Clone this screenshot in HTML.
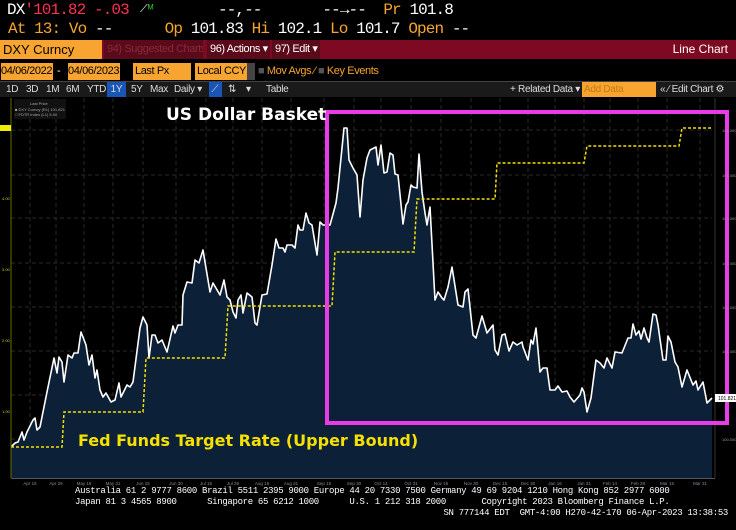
<!DOCTYPE html>
<html><head><meta charset="utf-8"><style>
html,body{margin:0;padding:0;background:#000;width:736px;height:530px;overflow:hidden;font-family:"Liberation Sans",sans-serif}
.a{position:absolute;white-space:nowrap}
.m{font-family:"Liberation Mono",monospace}
.i{font-size:11px;letter-spacing:-0.4px}
</style></head><body>
<div class="a m" style="left:7px;top:0;font-size:16px;line-height:20px;color:#fff;letter-spacing:-0.9px">DX<span style="color:#ff3050">'101.82 -.03</span></div>
<div class="a" style="left:140px;top:3px;color:#fff;font-size:11px">⟋<span style="color:#2c2">ᴹ</span></div>
<div class="a m" style="left:218px;top:0;font-size:16px;line-height:20px;color:#fff;letter-spacing:-0.9px">--,--&nbsp;&nbsp;&nbsp;&nbsp;&nbsp;&nbsp;&nbsp;--→--&nbsp;&nbsp;<span style="color:#f7a530">Pr</span> 101.8</div>
<div class="a m" style="left:8px;top:20px;font-size:16px;line-height:18px;color:#f7a530;letter-spacing:-0.9px">At 13: Vo <span style="color:#fff">--</span>&nbsp;&nbsp;&nbsp;&nbsp;&nbsp;&nbsp;Op <span style="color:#fff">101.83</span> Hi <span style="color:#fff">102.1</span> Lo <span style="color:#fff">101.7</span> Open <span style="color:#fff">--</span></div>
<div class="a" style="left:0;top:40px;width:736px;height:19px;background:#7d0a22"></div>
<div class="a" style="left:0;top:40px;width:102px;height:19px;background:#f7a530;color:#000;font-size:13px;line-height:19px;padding-left:3px;box-sizing:border-box">DXY Curncy</div>
<div class="a i" style="left:104px;top:40px;width:99px;height:19px;background:#5a0a1a;color:#8a2a3a;line-height:19px;padding-left:3px;box-sizing:border-box;overflow:hidden">94) Suggested Charts</div>
<div class="a i" style="left:207px;top:40px;width:63px;height:19px;background:#5a0a1a;color:#fff;line-height:19px;padding-left:3px;box-sizing:border-box">96) Actions ▾</div>
<div class="a i" style="left:272px;top:40px;width:48px;height:19px;background:#5a0a1a;color:#fff;line-height:19px;padding-left:3px;box-sizing:border-box">97) Edit ▾</div>
<div class="a" style="right:8px;top:40px;color:#fff;font-size:12px;line-height:19px">Line Chart</div>
<div class="a" style="left:0;top:61px;width:736px;height:20px;border-bottom:1px solid #444"></div>
<div class="a i" style="left:1px;top:63px;width:52px;height:17px;background:#f7a530;line-height:17px;color:#000;overflow:hidden">04/06/2022</div>
<div class="a" style="left:57px;top:65px;color:#fff;font-size:11px">-</div>
<div class="a i" style="left:68px;top:63px;width:52px;height:17px;background:#f7a530;line-height:17px;color:#000;overflow:hidden">04/06/2023</div>
<div class="a i" style="left:133px;top:63px;width:58px;height:17px;background:#f7a530;line-height:17px;color:#000;padding-left:2px;box-sizing:border-box">Last Px</div>
<div class="a i" style="left:195px;top:63px;width:52px;height:17px;background:#f7a530;line-height:17px;color:#000;padding-left:2px;box-sizing:border-box">Local CCY</div>
<div class="a" style="left:247px;top:63px;width:8px;height:17px;background:#444"></div>
<div class="a i" style="left:258px;top:65px;color:#f7a530"><span style="color:#555">■</span> Mov Avgs ⁄ <span style="color:#555">■</span> Key Events</div>
<div class="a" style="left:0;top:82px;width:736px;height:15px;background:#1a1a1a"></div>
<div class="a" style="left:0;top:82px;font-size:10px;line-height:15px;color:#ddd;letter-spacing:-0.3px">
<span style="position:absolute;left:6px">1D</span><span style="position:absolute;left:26px">3D</span><span style="position:absolute;left:46px">1M</span><span style="position:absolute;left:66px">6M</span><span style="position:absolute;left:87px">YTD</span><span style="position:absolute;left:107px;width:19px;background:#1a56b8;text-align:center">1Y</span><span style="position:absolute;left:131px">5Y</span><span style="position:absolute;left:150px">Max</span><span style="position:absolute;left:174px">Daily ▾</span><span style="position:absolute;left:209px;width:13px;background:#1a56b8">&nbsp;⟋</span><span style="position:absolute;left:228px">⇅</span><span style="position:absolute;left:246px">▾</span><span style="position:absolute;left:266px">Table</span>
<span style="position:absolute;left:510px">+ Related Data ▾</span><span style="position:absolute;left:582px;width:72px;background:#f7a530;color:#c47a10;padding-left:2px">Add Data</span><span style="position:absolute;left:660px">«  ⁄ Edit Chart ⚙</span></div>
<svg class="a" style="left:0;top:97px" width="736" height="400" viewBox="0 97 736 400">
<g stroke="#2a2a2a" stroke-width="1" stroke-dasharray="4,3">
<line x1="11" x2="712" y1="130" y2="130"/><line x1="11" x2="712" y1="175" y2="175"/><line x1="11" x2="712" y1="218" y2="218"/><line x1="11" x2="712" y1="263" y2="263"/><line x1="11" x2="712" y1="307" y2="307"/><line x1="11" x2="712" y1="351" y2="351"/><line x1="11" x2="712" y1="395" y2="395"/><line x1="11" x2="712" y1="439" y2="439"/>
<line y1="98" y2="478" x1="30" x2="30"/><line y1="98" y2="478" x1="56" x2="56"/><line y1="98" y2="478" x1="84" x2="84"/><line y1="98" y2="478" x1="113" x2="113"/><line y1="98" y2="478" x1="143" x2="143"/><line y1="98" y2="478" x1="176" x2="176"/><line y1="98" y2="478" x1="206" x2="206"/><line y1="98" y2="478" x1="233" x2="233"/><line y1="98" y2="478" x1="262" x2="262"/><line y1="98" y2="478" x1="291" x2="291"/><line y1="98" y2="478" x1="324" x2="324"/><line y1="98" y2="478" x1="354" x2="354"/><line y1="98" y2="478" x1="381" x2="381"/><line y1="98" y2="478" x1="411" x2="411"/><line y1="98" y2="478" x1="441" x2="441"/><line y1="98" y2="478" x1="471" x2="471"/><line y1="98" y2="478" x1="500" x2="500"/><line y1="98" y2="478" x1="528" x2="528"/><line y1="98" y2="478" x1="555" x2="555"/><line y1="98" y2="478" x1="584" x2="584"/><line y1="98" y2="478" x1="610" x2="610"/><line y1="98" y2="478" x1="638" x2="638"/><line y1="98" y2="478" x1="667" x2="667"/><line y1="98" y2="478" x1="700" x2="700"/>
</g>
<polygon fill="#0c2038" points="11,478 11,447 15,443 18,442 22,432 24,440 27,432 33,420 35,418 37,430 40,427 47,392 54,358 57,373 59,357 62,362 64,382 68,355 72,358 74,353 78,353 81,332 86,345 89,365 92,355 95,378 97,370 100,390 103,397 106,393 111,402 115,400 119,383 121,397 127,385 130,387 133,382 140,328 143,317 147,325 149,358 152,335 155,335 158,343 162,340 167,352 173,326 175,333 178,325 182,325 183,295 187,282 192,283 195,260 199,263 203,250 210,292 213,283 220,295 224,280 227,297 230,300 233,312 236,318 238,300 241,295 243,313 247,293 252,297 255,323 257,325 262,295 267,294 272,265 276,239 279,248 283,248 285,252 287,245 292,245 295,248 298,225 300,230 303,230 306,213 309,223 312,225 317,255 320,222 323,225 330,225 336,203 338,188 342,148 344,128 347,128 349,160 353,168 357,175 360,217 363,180 367,158 370,150 376,147 378,165 381,145 384,173 387,172 390,153 393,155 395,174 398,175 403,224 406,205 408,202 411,185 413,187 417,188 419,154 422,192 425,213 427,225 430,207 435,300 438,292 442,298 444,300 448,287 452,267 458,305 463,307 465,292 468,289 473,335 476,338 482,316 487,333 493,325 495,350 498,355 502,335 505,334 509,351 513,342 517,345 522,342 523,347 528,360 531,340 533,344 536,328 540,372 543,368 547,368 550,390 555,390 558,386 562,392 567,391 570,397 574,402 580,395 582,388 584,392 587,412 591,398 596,360 600,363 604,368 607,358 612,368 615,352 622,353 628,338 631,338 633,324 636,335 639,331 641,339 644,328 647,338 649,342 653,314 656,315 658,325 663,360 666,360 668,336 671,342 675,362 678,367 682,387 687,370 693,385 696,381 698,390 703,382 707,403 712,398 712,478"/>
<polyline fill="none" stroke="#fff" stroke-width="1.6" stroke-linejoin="round" points="11,447 15,443 18,442 22,432 24,440 27,432 33,420 35,418 37,430 40,427 47,392 54,358 57,373 59,357 62,362 64,382 68,355 72,358 74,353 78,353 81,332 86,345 89,365 92,355 95,378 97,370 100,390 103,397 106,393 111,402 115,400 119,383 121,397 127,385 130,387 133,382 140,328 143,317 147,325 149,358 152,335 155,335 158,343 162,340 167,352 173,326 175,333 178,325 182,325 183,295 187,282 192,283 195,260 199,263 203,250 210,292 213,283 220,295 224,280 227,297 230,300 233,312 236,318 238,300 241,295 243,313 247,293 252,297 255,323 257,325 262,295 267,294 272,265 276,239 279,248 283,248 285,252 287,245 292,245 295,248 298,225 300,230 303,230 306,213 309,223 312,225 317,255 320,222 323,225 330,225 336,203 338,188 342,148 344,128 347,128 349,160 353,168 357,175 360,217 363,180 367,158 370,150 376,147 378,165 381,145 384,173 387,172 390,153 393,155 395,174 398,175 403,224 406,205 408,202 411,185 413,187 417,188 419,154 422,192 425,213 427,225 430,207 435,300 438,292 442,298 444,300 448,287 452,267 458,305 463,307 465,292 468,289 473,335 476,338 482,316 487,333 493,325 495,350 498,355 502,335 505,334 509,351 513,342 517,345 522,342 523,347 528,360 531,340 533,344 536,328 540,372 543,368 547,368 550,390 555,390 558,386 562,392 567,391 570,397 574,402 580,395 582,388 584,392 587,412 591,398 596,360 600,363 604,368 607,358 612,368 615,352 622,353 628,338 631,338 633,324 636,335 639,331 641,339 644,328 647,338 649,342 653,314 656,315 658,325 663,360 666,360 668,336 671,342 675,362 678,367 682,387 687,370 693,385 696,381 698,390 703,382 707,403 712,398"/>
<polyline fill="none" stroke="#f5e000" stroke-width="1.5" stroke-dasharray="3,2" points="11,447 62,447 64,412 143,412 146,358 225,358 228,306 332,306 335,252 414,252 417,199 495,199 497,163 584,163 587,146 679,146 682,128 712,128"/>
<line x1="11" y1="98" x2="11" y2="478" stroke="#6a6a00" stroke-width="1"/>
<line x1="715" y1="98" x2="715" y2="478" stroke="#333" stroke-width="1"/>
<line x1="11" y1="478.5" x2="715" y2="478.5" stroke="#555"/>
<rect x="327" y="112" width="400" height="311" fill="none" stroke="#e83ce8" stroke-width="4"/>
<rect x="14" y="99" width="52" height="20" fill="#111"/>
<g font-size="4" fill="#aaa" font-family="Liberation Sans"><text x="30" y="105">Last Price</text><text x="15" y="111">■ DXY Curncy (R1) 101.821</text><text x="15" y="116">□ FDTR Index (L1) 5.00</text></g>
<rect x="0" y="125" width="11" height="6" fill="#ee0"/>
<g font-size="4" fill="#cc0" font-family="Liberation Sans"><text x="2" y="200">4.00</text><text x="2" y="271">3.00</text><text x="2" y="342">2.00</text><text x="2" y="413">1.00</text></g>
<g font-size="4" fill="#999" font-family="Liberation Sans"><text x="722" y="132">106.000</text><text x="722" y="177">105.000</text><text x="722" y="220">104.000</text><text x="722" y="265">103.000</text><text x="722" y="309">102.000</text><text x="722" y="353">101.000</text><text x="722" y="441">100.000</text></g>
<rect x="715" y="394" width="21" height="8" fill="#fff"/>
<text x="718" y="400" font-size="5" fill="#000" font-family="Liberation Sans">101.821</text>
<g font-size="4.5" fill="#889" font-family="Liberation Sans" text-anchor="middle"><text x="30" y="485">Apr 15</text><text x="56" y="485">Apr 29</text><text x="84" y="485">May 16</text><text x="113" y="485">May 31</text><text x="143" y="485">Jun 15</text><text x="176" y="485">Jun 30</text><text x="206" y="485">Jul 15</text><text x="233" y="485">Jul 29</text><text x="262" y="485">Aug 15</text><text x="291" y="485">Aug 31</text><text x="324" y="485">Sep 15</text><text x="354" y="485">Sep 30</text><text x="381" y="485">Oct 14</text><text x="411" y="485">Oct 31</text><text x="441" y="485">Nov 15</text><text x="471" y="485">Nov 30</text><text x="500" y="485">Dec 15</text><text x="528" y="485">Dec 30</text><text x="555" y="485">Jan 16</text><text x="584" y="485">Jan 31</text><text x="610" y="485">Feb 14</text><text x="638" y="485">Feb 28</text><text x="667" y="485">Mar 15</text><text x="700" y="485">Mar 31</text></g>
<text x="166" y="120" font-size="17" font-weight="bold" fill="#fff" font-family="DejaVu Sans">US Dollar Basket</text>
<text x="78" y="446" font-size="16" font-weight="bold" fill="#f5e000" font-family="DejaVu Sans">Fed Funds Target Rate (Upper Bound)</text>
</svg>
<div class="a m" style="left:75px;top:486px;font-size:9px;line-height:11px;color:#fff;letter-spacing:-0.32px">Australia 61 2 9777 8600 Brazil 5511 2395 9000 Europe 44 20 7330 7500 Germany 49 69 9204 1210 Hong Kong 852 2977 6000<br>Japan 81 3 4565 8900&nbsp;&nbsp;&nbsp;&nbsp;&nbsp;&nbsp;Singapore 65 6212 1000&nbsp;&nbsp;&nbsp;&nbsp;&nbsp;&nbsp;U.S. 1 212 318 2000&nbsp;&nbsp;&nbsp;&nbsp;&nbsp;&nbsp;&nbsp;Copyright 2023 Bloomberg Finance L.P.</div>
<div class="a m" style="right:8px;top:508px;font-size:9px;line-height:11px;color:#fff;letter-spacing:-0.32px">SN 777144 EDT&nbsp;&nbsp;GMT-4:00 H270-42-170 06-Apr-2023 13:38:53</div>
</body></html>
